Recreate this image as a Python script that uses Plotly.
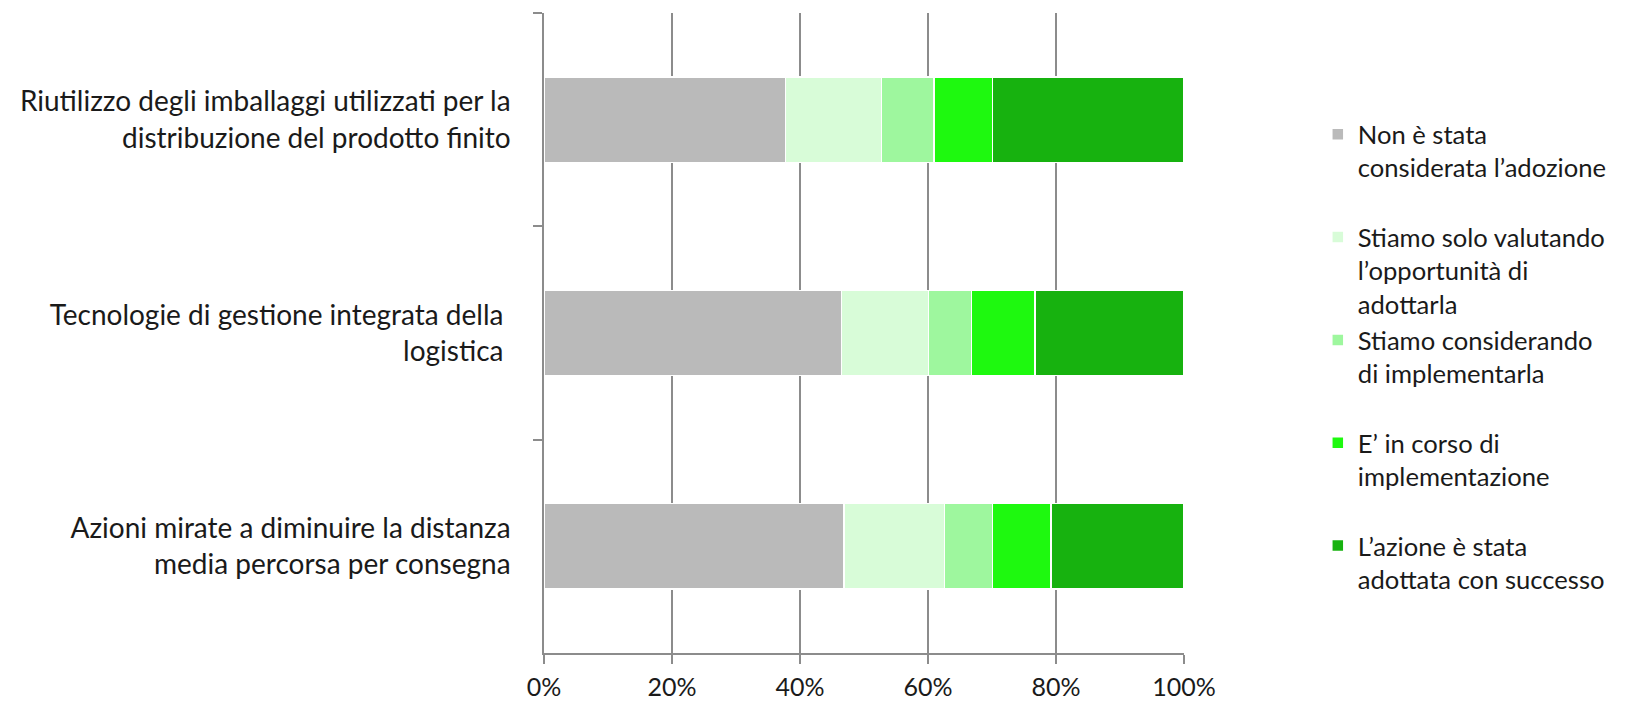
import plotly.graph_objects as go

categories = [
    "Riutilizzo degli imballaggi utilizzati per la<br>distribuzione del prodotto finito",
    "Tecnologie di gestione integrata della <br>logistica ",
    "Azioni mirate a diminuire la distanza<br>media percorsa per consegna",
]
series_names = [
    "Non è stata<br>considerata l’adozione<br>\u00a0",
    "Stiamo solo valutando<br>l’opportunità di<br>adottarla",
    "Stiamo considerando<br>di implementarla<br>\u00a0",
    "E’ in corso di<br>implementazione<br>\u00a0",
    "L’azione è stata<br>adottata con successo<br>\u00a0",
]
non_considerata = [0.377, 0.465, 0.469]
valutando = [0.150, 0.136, 0.157]
considerando = [0.082, 0.067, 0.075]
in_corso = [0.092, 0.099, 0.091]
adottata = [0.299, 0.233, 0.208]
series_values = [non_considerata, valutando, considerando, in_corso, adottata]
colors = ["#bababa", "#d8fcd8", "#9ef79e", "#1ef90f", "#17b20f"]
x_tickvals = [0, 0.2, 0.4, 0.6, 0.8, 1.0]

FONT = "Lato"
fig = go.Figure()
for name, vals, col in zip(series_names, series_values, colors):
    fig.add_trace(go.Bar(
        y=categories, x=vals, name=name, orientation="h",
        marker=dict(color=col, line=dict(color="white", width=1.5)),
    ))

fig.update_layout(
    barmode="stack",
    bargap=0.6,
    width=1635, height=703,
    margin=dict(l=544, r=451, t=13, b=50, autoexpand=False),
    plot_bgcolor="white", paper_bgcolor="white",
    font=dict(family=FONT, size=26, color="#1a1a1a"),
    showlegend=True,
    legend=dict(
        xref="container", yref="container",
        x=0.806, y=0.842, xanchor="left", yanchor="top",
        valign="top", traceorder="normal", maxheight=660,
        font=dict(family=FONT, size=25.6, color="#1a1a1a"),
        bgcolor="rgba(0,0,0,0)",
    ),
    xaxis=dict(
        range=[0, 1], tickvals=x_tickvals, tickformat=".0%",
        showgrid=True, gridcolor="#8c8c8c", gridwidth=1.5,
        showline=True, linecolor="#8c8c8c", linewidth=1.5,
        ticks="outside", ticklen=9, tickcolor="#8c8c8c", tickwidth=1.5,
        ticklabelstandoff=2, zeroline=False, automargin=False,
        tickfont=dict(size=25),
    ),
    yaxis=dict(
        autorange=False, range=[2.5, -0.5],
        showline=True, linecolor="#8c8c8c", linewidth=1.5,
        ticks="outside", ticklen=9, tickcolor="#8c8c8c", tickwidth=1.5,
        tickson="boundaries", showgrid=False, automargin=False,
        ticklabelstandoff=26, tickfont=dict(size=28),
    ),
)
fig.write_html("out.html")
